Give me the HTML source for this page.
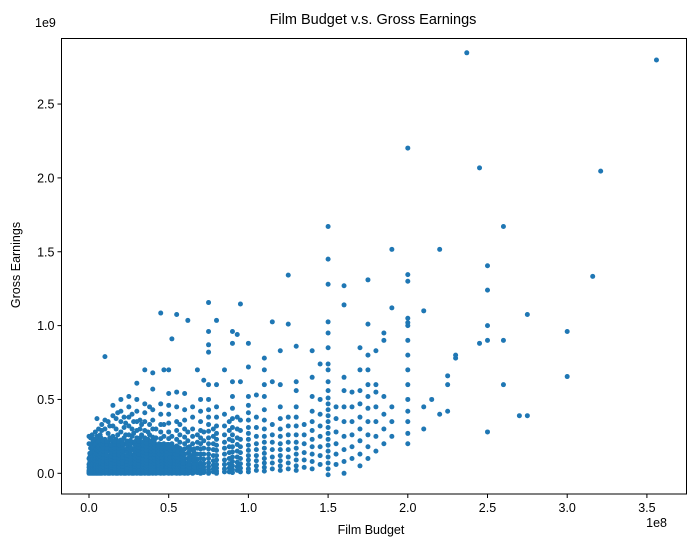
<!DOCTYPE html>
<html><head><meta charset="utf-8"><style>
body{margin:0;background:#fff;}
svg text{font-family:"Liberation Sans","DejaVu Sans",sans-serif;fill:#000;}
</style></head><body>
<svg id="chart" width="691" height="547" xmlns="http://www.w3.org/2000/svg">
<rect width="691" height="547" fill="#fff"/>
<text x="373" y="24" font-size="14.5" text-anchor="middle">Film Budget v.s. Gross Earnings</text>
<g id="marks"></g>
<g id="axes"></g>
<text x="371" y="534" font-size="12.5" text-anchor="middle">Film Budget</text>
<text transform="translate(20,265) rotate(-90)" font-size="12.5" text-anchor="middle">Gross Earnings</text>
<text x="667" y="527" font-size="12.5" text-anchor="end">1e8</text>
<text x="35" y="27" font-size="12.5">1e9</text>
</svg>
<script>
// budgets in millions, grosses in millions
const colBudgets=[0,1,2,3,4,5,6,7,8,10,12,13,15,17,18,20,22,23,25,27,28,30,32,33,35,37,38,40,42,45,47,50,52,55,57,60,62,65,68,70,72,75,78,80,85,88,90,93,95,100,105,110,115,120,125,130,135,140,145,150,155,160,165,170,175,180,185,190,200,210,215,220,225,230,245,250,260];
const colGross=[
[0,5,10,20,40,60,100,200,250],
[0,3,8,15,30,50,80,120,170,240],
[0,5,12,25,45,70,110,150,200,260],
[0,4,10,20,35,60,90,130,180,230],
[0,6,15,30,50,80,120,160,210,280],
[0,5,12,22,40,65,95,140,190,250,370],
[0,8,18,35,55,85,125,170,220,300],
[0,5,14,28,48,75,110,150,200,260],
[0,6,16,32,52,80,115,155,205,290,330],
[0,5,12,25,45,70,100,140,180,230,300,360,790],
[0,7,18,35,55,85,120,160,210,270,350],
[0,5,14,30,50,75,110,150,190,240,320],
[0,6,15,30,50,80,115,155,200,250,320,390,460],
[0,5,12,28,45,70,105,140,185,230,300,370],
[0,8,20,38,60,90,125,165,210,260,410],
[0,5,15,30,50,75,105,140,180,225,280,350,420,500],
[0,6,16,32,52,80,115,150,195,240,310,380],
[0,7,18,35,55,85,120,160,200,260,340],
[0,5,15,30,50,75,100,130,170,210,260,320,380,450,520],
[0,6,18,35,55,85,120,160,205,250,300,400],
[0,8,20,40,60,90,125,165,210,270,350],
[0,5,15,30,50,75,100,130,165,200,240,290,350,420,500,610],
[0,6,18,35,55,85,120,155,195,240,300,360],
[0,7,20,40,62,90,125,165,210,260,330],
[0,5,15,30,50,75,100,130,160,200,240,290,350,410,470,700],
[0,6,18,35,55,80,115,150,190,230,280],
[0,8,20,40,60,90,125,160,200,260,330,450],
[0,5,15,30,50,75,100,130,165,200,245,300,360,430,570,680],
[0,6,18,35,55,85,120,155,195,240,300],
[0,5,15,30,50,75,100,130,160,195,235,280,330,400,470,1085],
[0,8,22,40,62,90,125,160,200,250,330,700],
[0,5,15,30,50,75,100,130,160,195,235,280,340,400,460,540,700],
[0,7,20,38,60,88,120,160,200,250,910],
[0,6,18,35,55,80,110,145,185,230,290,350,450,550,1075],
[0,8,22,42,65,95,130,170,210,260,330],
[0,5,15,30,50,75,100,130,165,200,245,300,360,430,540],
[0,10,25,45,70,100,135,175,220,280,1035],
[0,8,20,40,60,90,120,160,200,250,300,380,450],
[5,20,40,65,95,130,170,210,260,700],
[0,10,25,45,70,100,130,165,200,240,290,350,420,500],
[5,20,40,65,95,130,170,220,280,630],
[0,10,25,45,70,100,130,165,200,240,285,330,380,430,500,600,820,870,960,1156],
[10,30,55,85,120,160,200,250,300],
[0,15,35,60,90,120,155,190,230,270,320,380,450,600,1035],
[10,30,60,90,130,170,210,260,320,400,700],
[10,35,65,100,140,180,230,290,350],
[5,25,50,80,110,145,180,220,260,310,370,440,520,620,880,960],
[20,45,75,110,150,195,240,300,380,940],
[10,35,65,100,140,180,230,290,360,620,1146],
[10,30,60,90,120,155,190,230,270,310,360,410,460,520,720,880],
[20,50,85,120,160,200,250,310,380,530],
[15,40,70,100,135,170,210,250,300,360,430,520,600,700,780],
[30,70,110,160,210,260,330,620,1025],
[20,50,85,120,160,200,250,300,370,450,600,830],
[30,70,110,160,210,260,320,380,1010,1342],
[20,50,90,130,170,210,260,320,380,450,560,620,860],
[40,90,140,200,260,330],
[30,80,130,180,230,290,350,420,520,650,830],
[60,120,180,250,320,400,500,740],
[-10,30,70,110,150,190,230,270,310,350,390,430,470,510,560,620,700,740,850,950,1025,1280,1450,1671],
[60,130,200,280,370,450],
[0,80,160,250,350,450,560,650,1140,1270],
[100,180,260,350,450,550],
[50,130,220,300,380,470,560,700,850],
[100,180,260,350,440,520,600,700,800,1010,1310],
[150,250,350,450,550,600,830],
[200,300,400,520,900,950],
[250,350,450,1120,1516],
[200,270,350,420,500,600,700,800,900,1000,1020,1050,1300,1345,2202],
[300,450,1100],
[500],
[400,1516],
[420,600,660],
[780,800],
[880,2068],
[280,900,1000,1240,1405],
[600,900,1671]];
// dense low-budget cluster
const denseBudgets=[0.5,1.5,2.5,3.5,4.5,5.5,6.5,7.5,9,11,14,16,19,21,24,26,29,31,34,36,39,41,43,44,46,48,49,51,53,54,56,58,59,63,66];
const denseGross=[
[2,14,27,42,58,75,92,110,135],
[2,12,22,36,52,68,88,105,140,190],
[3,16,28,40,55,72,95,118,145,180,215],
[2,13,26,44,62,80,100,122,150,195],
[4,18,33,47,66,88,108,132,165,200,235],
[2,15,28,44,60,82,104,128,155,180,215],
[3,12,25,42,62,78,100,125,150,185,220],
[2,17,32,50,68,90,112,135,160,195,240],
[3,14,27,42,60,82,105,128,150,170,200,220],
[2,16,30,48,66,85,108,125,150,170,195,215],
[3,12,24,40,58,78,98,118,140,165,190,225],
[2,18,34,52,70,90,110,130,150,172,195,218],
[3,14,28,44,62,80,100,122,146,168,190,215],
[2,16,30,48,66,86,108,130,152,175,198,225],
[3,12,26,42,60,80,102,124,146,168,192,218],
[2,18,34,52,70,92,112,134,156,178,200,222],
[3,14,28,46,64,82,104,126,148,170,192,215],
[2,16,32,50,68,88,110,132,154,176,198,220],
[3,12,26,44,62,80,100,122,145,168,190,214],
[2,18,34,52,70,90,112,134,156,180,205,230],
[3,14,30,46,64,84,106,128,150,172,194,216],
[2,16,32,50,68,88,108,130,152,176,198,222],
[3,12,28,44,62,82,104,126,148,170,192],
[2,18,34,52,70,90,110,132,155,178,200],
[3,14,30,48,66,86,106,128,150,172,196],
[2,16,32,50,68,88,110,132,154,176],
[3,12,28,46,64,84,104,126,148,170,195],
[2,18,34,52,70,90,112,134,158,180],
[3,14,30,48,66,86,108,130,152,176],
[2,16,32,50,68,88,110,132,156],
[3,12,28,46,64,84,106,128,150,175],
[2,18,34,52,72,92,114,136,160],
[3,14,30,48,66,86,108,132,158],
[5,22,40,60,82,105,128,150,180],
[6,24,44,66,88,112,138,165]];
const extraBudget=[237,356,321,316,275,275,270,300,300];
const extraGross=[2847,2798,2046,1333,1075,390,390,960,655];
const xTicks=[0,0.5,1.0,1.5,2.0,2.5,3.0,3.5];
const xTickLabels=["0.0","0.5","1.0","1.5","2.0","2.5","3.0","3.5"];
const yTicks=[0,0.5,1.0,1.5,2.0,2.5];
const yTickLabels=["0.0","0.5","1.0","1.5","2.0","2.5"];

const NS="http://www.w3.org/2000/svg";
const L=61.5,R=686.5,T=38.5,B=494;
function xs(v){return 89+v*159.4;}          // v in 1e8
function ys(v){return 473.3-v*147.7;}        // v in 1e9
const marks=document.getElementById('marks');
function dot(b,g){
  const c=document.createElementNS(NS,'circle');
  c.setAttribute('cx',xs(b/100));c.setAttribute('cy',ys(g/1000));
  c.setAttribute('r',2.5);c.setAttribute('fill','#1f77b4');
  
  
  marks.appendChild(c);
}
colBudgets.forEach((b,i)=>colGross[i].forEach(g=>dot(b,g)));
denseBudgets.forEach((b,i)=>denseGross[i].forEach(g=>dot(b,g)));
extraBudget.forEach((b,i)=>dot(b,extraGross[i]));

const ax=document.getElementById('axes');
const fr=document.createElementNS(NS,'rect');
fr.setAttribute('x',L);fr.setAttribute('y',T);fr.setAttribute('width',R-L);fr.setAttribute('height',B-T);
fr.setAttribute('fill','none');fr.setAttribute('stroke','#000');fr.setAttribute('stroke-width','1');


ax.appendChild(fr);
xTicks.forEach((t,i)=>{
  const x=xs(t);
  const l=document.createElementNS(NS,'line');
  l.setAttribute('x1',x);l.setAttribute('x2',x);l.setAttribute('y1',B);l.setAttribute('y2',B+4);l.setAttribute('stroke','#000');
  
  
  ax.appendChild(l);
  const tx=document.createElementNS(NS,'text');
  tx.setAttribute('x',x);tx.setAttribute('y',B+18);tx.setAttribute('font-size','12.5');tx.setAttribute('text-anchor','middle');
  tx.textContent=xTickLabels[i];
  
  
  ax.appendChild(tx);
});
yTicks.forEach((t,i)=>{
  const y=ys(t);
  const l=document.createElementNS(NS,'line');
  l.setAttribute('x1',L-4);l.setAttribute('x2',L);l.setAttribute('y1',y);l.setAttribute('y2',y);l.setAttribute('stroke','#000');
  
  
  ax.appendChild(l);
  const tx=document.createElementNS(NS,'text');
  tx.setAttribute('x',L-7);tx.setAttribute('y',y+4.5);tx.setAttribute('font-size','12.5');tx.setAttribute('text-anchor','end');
  tx.textContent=yTickLabels[i];
  
  
  ax.appendChild(tx);
});
</script>
</body></html>
